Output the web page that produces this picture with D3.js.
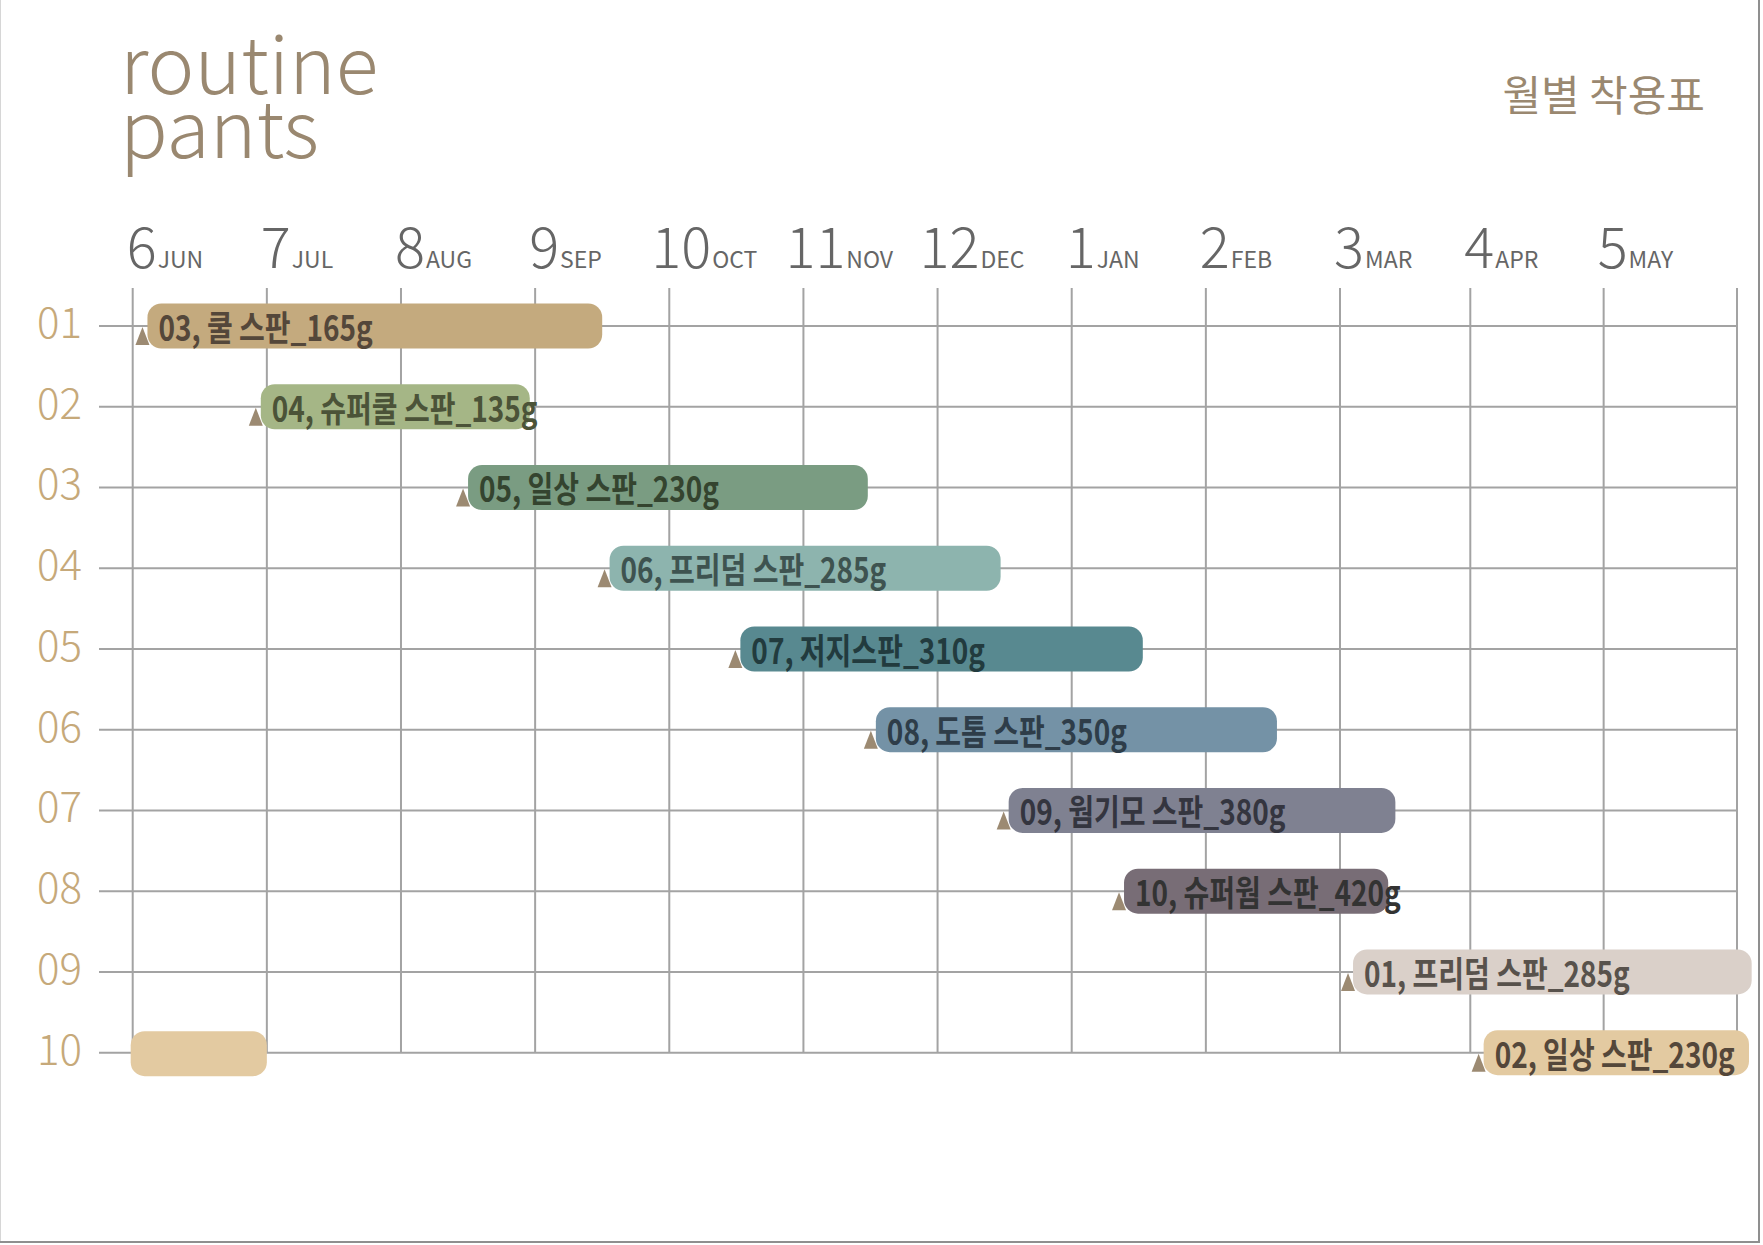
<!DOCTYPE html>
<html>
<head>
<meta charset="utf-8">
<script src="https://cdn.jsdelivr.net/npm/d3@7"></script>
<style>
  html, body { margin: 0; padding: 0; background: #fff; }
  svg { display: block; }
  text { font-family: "Noto Sans CJK KR", "Noto Sans", sans-serif; }
</style>
</head>
<body>
<div id="chart"></div>
<script>
// months on the x axis (June -> May)
const monthNums = [6, 7, 8, 9, 10, 11, 12, 1, 2, 3, 4, 5];
const monthNames = ['JUN', 'JUL', 'AUG', 'SEP', 'OCT', 'NOV', 'DEC', 'JAN', 'FEB', 'MAR', 'APR', 'MAY'];

// rows on the y axis
const rows = ['01', '02', '03', '04', '05', '06', '07', '08', '09', '10'];

// one pair of pants per row, wearing period in months from the start of June
const labels = [
    '03, 쿨 스판_165g', '04, 슈퍼쿨 스판_135g', '05, 일상 스판_230g', '06, 프리덤 스판_285g',
    '07, 저지스판_310g', '08, 도톰 스판_350g', '09, 웜기모 스판_380g', '10, 슈퍼웜 스판_420g',
    '01, 프리덤 스판_285g', '02, 일상 스판_230g'
];
const starts = [0.11, 0.955, 2.5, 3.555, 4.53, 5.54, 6.53, 7.39, 9.1, 10.1];
const ends = [3.5, 2.96, 5.48, 6.47, 7.53, 8.53, 9.425, 9.37, 12.11, 12.09];

// the last row runs past May and carries on into June
const wrapRows = ['10'];
const wrapStarts = [-0.015];
const wrapEnds = [1.0];

const barColors = ['#c4aa7e', '#a5b686', '#7a9c82', '#8db4ae', '#588990', '#7492a6', '#7f8191', '#786d76', '#dad0c9', '#e3caa1'];
const textColors = ['#54473a', '#4b5338', '#34442f', '#3e5350', '#223b3e', '#2e3d49', '#34353f', '#333333', '#58524c', '#54473a'];

const width = 1763, height = 1245;

const svg = d3.select('#chart')
    .append('svg')
    .attr('width', width)
    .attr('height', height);

// frame
svg.append('line').attr('x1', 0.5).attr('x2', 0.5).attr('y1', 0).attr('y2', 1243)
    .attr('stroke', '#d6d6d6').attr('stroke-width', 1);
svg.append('line').attr('x1', 1759).attr('x2', 1759).attr('y1', 0).attr('y2', 1243)
    .attr('stroke', '#8f8f8f').attr('stroke-width', 2);
svg.append('line').attr('x1', 0).attr('x2', 1760).attr('y1', 1242).attr('y2', 1242)
    .attr('stroke', '#8f8f8f').attr('stroke-width', 2);

// the March -> April column is drawn a little narrower than the rest
const x = d3.scaleLinear()
    .domain([0, 9, 10, 12])
    .range([132.7, 1340, 1470.3, 1737]);

const y = d3.scalePoint()
    .domain(rows)
    .range([326, 1052.7]);

// titles
const title = svg.append('text')
    .attr('fill', '#9a8870')
    .attr('font-size', 79)
    .attr('font-weight', 300);
title.append('tspan').attr('x', 120).attr('y', 94).text('routine');
title.append('tspan').attr('x', 120).attr('y', 158).text('pants');

svg.append('text')
    .attr('x', 1705)
    .attr('y', 111)
    .attr('text-anchor', 'end')
    .attr('fill', '#9a8870')
    .attr('font-size', 42)
    .text('월별 착용표');

// grid
const grid = svg.append('g').attr('stroke', '#a3a3a3').attr('stroke-width', 2);

grid.selectAll('line.v')
    .data(d3.range(0, 13))
    .join('line')
    .attr('class', 'v')
    .attr('x1', d => x(d))
    .attr('x2', d => x(d))
    .attr('y1', 288)
    .attr('y2', y(rows[rows.length - 1]));

grid.selectAll('line.h')
    .data(rows)
    .join('line')
    .attr('class', 'h')
    .attr('x1', 99)
    .attr('x2', x(12))
    .attr('y1', d => y(d))
    .attr('y2', d => y(d));

// month labels
const monthLabel = svg.append('g')
    .selectAll('text')
    .data(monthNums)
    .join('text')
    .attr('x', (d, i) => x(i) - (d >= 10 ? 18 : 6))
    .attr('y', 268)
    .attr('fill', '#666666');
monthLabel.append('tspan')
    .attr('font-size', 56)
    .attr('font-weight', 300)
    .text(d => d);
monthLabel.append('tspan')
    .attr('font-size', 23)
    .attr('dx', 1)
    .text((d, i) => monthNames[i]);

// row labels
svg.append('g')
    .selectAll('text')
    .data(rows)
    .join('text')
    .attr('x', 37)
    .attr('y', d => y(d) + 12)
    .attr('fill', '#c6a97a')
    .attr('font-size', 42)
    .attr('font-weight', 300)
    .text(d => d);

const barH = 45;

// wrapped part of the last row (no label)
svg.append('g')
    .selectAll('rect')
    .data(wrapRows)
    .join('rect')
    .attr('x', (d, i) => x(wrapStarts[i]))
    .attr('y', d => y(d) - barH / 2 + 1)
    .attr('width', (d, i) => x(wrapEnds[i]) - x(wrapStarts[i]))
    .attr('height', barH)
    .attr('rx', 14)
    .attr('fill', (d, i) => barColors[rows.indexOf(d)]);

const bars = svg.append('g')
    .selectAll('g')
    .data(rows)
    .join('g');

bars.append('rect')
    .attr('x', (d, i) => x(starts[i]))
    .attr('y', d => y(d) - barH / 2)
    .attr('width', (d, i) => x(ends[i]) - x(starts[i]))
    .attr('height', barH)
    .attr('rx', 14)
    .attr('fill', (d, i) => barColors[i]);

bars.append('text')
    .attr('transform', (d, i) => `translate(${x(starts[i]) + 11},${y(d) + 15}) scale(0.8,1)`)
    .attr('font-size', 35)
    .attr('font-weight', 700)
    .attr('fill', (d, i) => textColors[i])
    .text((d, i) => labels[i]);

// start markers
bars.append('path')
    .attr('d', (d, i) => {
        const sx = x(starts[i]) - 5;
        const sy = y(d);
        return `M${sx},${sy + 1}L${sx + 7},${sy + 19}L${sx - 7},${sy + 19}Z`;
    })
    .attr('fill', '#9c8a72');
</script>
</body>
</html>
